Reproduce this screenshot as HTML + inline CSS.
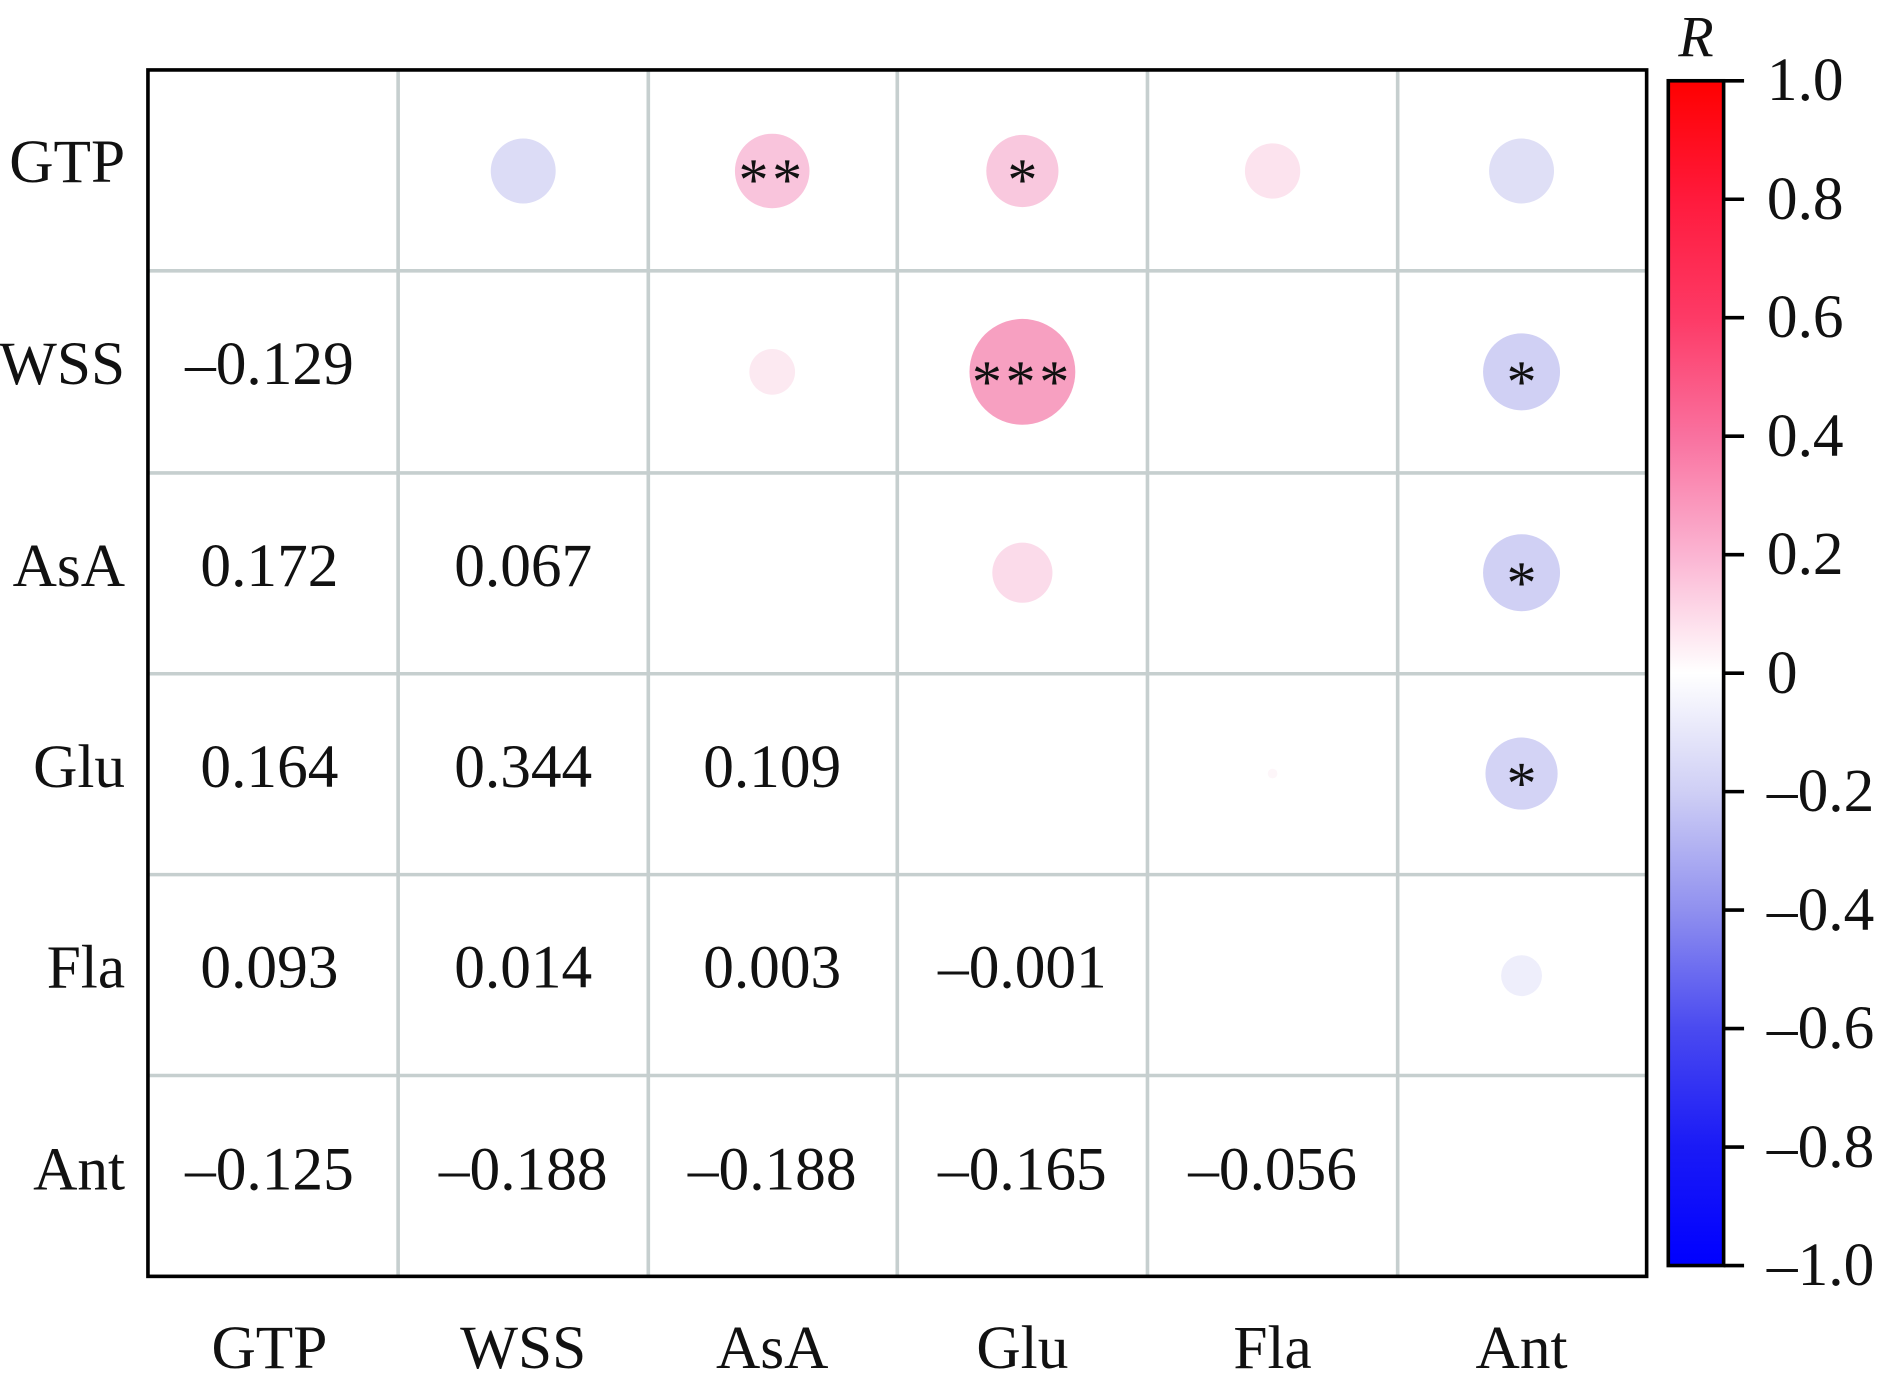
<!DOCTYPE html>
<html><head><meta charset="utf-8"><style>html,body{margin:0;padding:0;background:#fff}svg{display:block}</style></head>
<body>
<svg width="1886" height="1386" viewBox="0 0 1568 1152" xmlns="http://www.w3.org/2000/svg" font-family="Liberation Serif, serif">
<defs>
<linearGradient id="cb" x1="0" y1="0" x2="0" y2="1">
<stop offset="0" stop-color="#ff0000"/>
<stop offset="0.1" stop-color="#ff1a3c"/>
<stop offset="0.2" stop-color="#fd3a66"/>
<stop offset="0.3" stop-color="#f9719f"/>
<stop offset="0.4" stop-color="#fbb4d2"/>
<stop offset="0.5" stop-color="#ffffff"/>
<stop offset="0.6" stop-color="#cfcff5"/>
<stop offset="0.7" stop-color="#9090ef"/>
<stop offset="0.8" stop-color="#4a4af0"/>
<stop offset="0.9" stop-color="#1a1af6"/>
<stop offset="1" stop-color="#0000ff"/>
</linearGradient>
</defs>
<rect width="1568" height="1152" fill="#fff"/>
<g stroke="#c6cfcf" stroke-width="3">
<line x1="331" y1="58" x2="331" y2="1061"/><line x1="539" y1="58" x2="539" y2="1061"/><line x1="746" y1="58" x2="746" y2="1061"/><line x1="954" y1="58" x2="954" y2="1061"/><line x1="1162" y1="58" x2="1162" y2="1061"/>
<line x1="123" y1="225" x2="1369" y2="225"/><line x1="123" y1="393" x2="1369" y2="393"/><line x1="123" y1="560" x2="1369" y2="560"/><line x1="123" y1="727" x2="1369" y2="727"/><line x1="123" y1="894" x2="1369" y2="894"/>
</g>
<rect x="123" y="58" width="1246" height="1003" fill="none" stroke="#000" stroke-width="3"/>
<circle cx="435" cy="142" r="27" fill="#dcdcf6"/>
<circle cx="642" cy="142" r="31" fill="#f9c4dc"/>
<circle cx="850" cy="142" r="30" fill="#f9c8de"/>
<circle cx="1058" cy="142" r="23" fill="#fce3ee"/>
<circle cx="1265" cy="142" r="27" fill="#dfdff6"/>
<circle cx="642" cy="309" r="19" fill="#fce9f1"/>
<circle cx="850" cy="309" r="44" fill="#f7a0c1"/>
<circle cx="1265" cy="309" r="32" fill="#d0d0f4"/>
<circle cx="850" cy="476" r="25" fill="#fbdbea"/>
<circle cx="1265" cy="476" r="32" fill="#d0d0f4"/>
<circle cx="1058" cy="643" r="4" fill="#fdf6f9"/>
<circle cx="1265" cy="643" r="30" fill="#d3d3f5"/>
<circle cx="1265" cy="811" r="17" fill="#eeeefb"/>
<g font-size="50" text-anchor="middle" fill="#111">
<text x="642" y="166" letter-spacing="3">**</text><text x="850" y="166">*</text>
<text x="850" y="334" letter-spacing="3">***</text><text x="1265" y="334">*</text>
<text x="1265" y="501">*</text><text x="1265" y="668">*</text>
</g>
<g font-size="51" text-anchor="middle" fill="#111">
<text x="224" y="319">–0.129</text>
<text x="224" y="487">0.172</text><text x="435" y="487">0.067</text>
<text x="224" y="654">0.164</text><text x="435" y="654">0.344</text><text x="642" y="654">0.109</text>
<text x="224" y="821">0.093</text><text x="435" y="821">0.014</text><text x="642" y="821">0.003</text><text x="850" y="821">–0.001</text>
<text x="224" y="989">–0.125</text><text x="435" y="989">–0.188</text><text x="642" y="989">–0.188</text><text x="850" y="989">–0.165</text><text x="1058" y="989">–0.056</text>
</g>
<g font-size="51" text-anchor="end" fill="#111">
<text x="104" y="151">GTP</text><text x="104" y="319">WSS</text><text x="104" y="487">AsA</text><text x="104" y="654">Glu</text><text x="104" y="821">Fla</text><text x="104" y="989">Ant</text>
</g>
<g font-size="51" text-anchor="middle" fill="#111">
<text x="224" y="1137">GTP</text><text x="435" y="1137">WSS</text><text x="642" y="1137">AsA</text><text x="850" y="1137">Glu</text><text x="1058" y="1137">Fla</text><text x="1265" y="1137">Ant</text>
</g>
<rect x="1387" y="67" width="46" height="985" fill="url(#cb)" stroke="#000" stroke-width="3"/>
<g stroke="#000" stroke-width="3">
<line x1="1433" y1="67" x2="1450" y2="67"/><line x1="1433" y1="165.5" x2="1450" y2="165.5"/><line x1="1433" y1="264" x2="1450" y2="264"/><line x1="1433" y1="362.5" x2="1450" y2="362.5"/><line x1="1433" y1="461" x2="1450" y2="461"/><line x1="1433" y1="559.5" x2="1450" y2="559.5"/><line x1="1433" y1="658" x2="1450" y2="658"/><line x1="1433" y1="756.5" x2="1450" y2="756.5"/><line x1="1433" y1="855" x2="1450" y2="855"/><line x1="1433" y1="953.5" x2="1450" y2="953.5"/><line x1="1433" y1="1052" x2="1450" y2="1052"/>
</g>
<g font-size="51" fill="#111">
<text x="1469" y="83">1.0</text><text x="1469" y="182">0.8</text><text x="1469" y="280">0.6</text><text x="1469" y="379">0.4</text><text x="1469" y="477">0.2</text><text x="1469" y="576">0</text>
<text x="1469" y="674">–0.2</text><text x="1469" y="773">–0.4</text><text x="1469" y="871">–0.6</text><text x="1469" y="970">–0.8</text><text x="1469" y="1068">–1.0</text>
</g>
<text x="1410" y="47" font-size="48" font-style="italic" text-anchor="middle" fill="#111">R</text>
</svg>
</body></html>
